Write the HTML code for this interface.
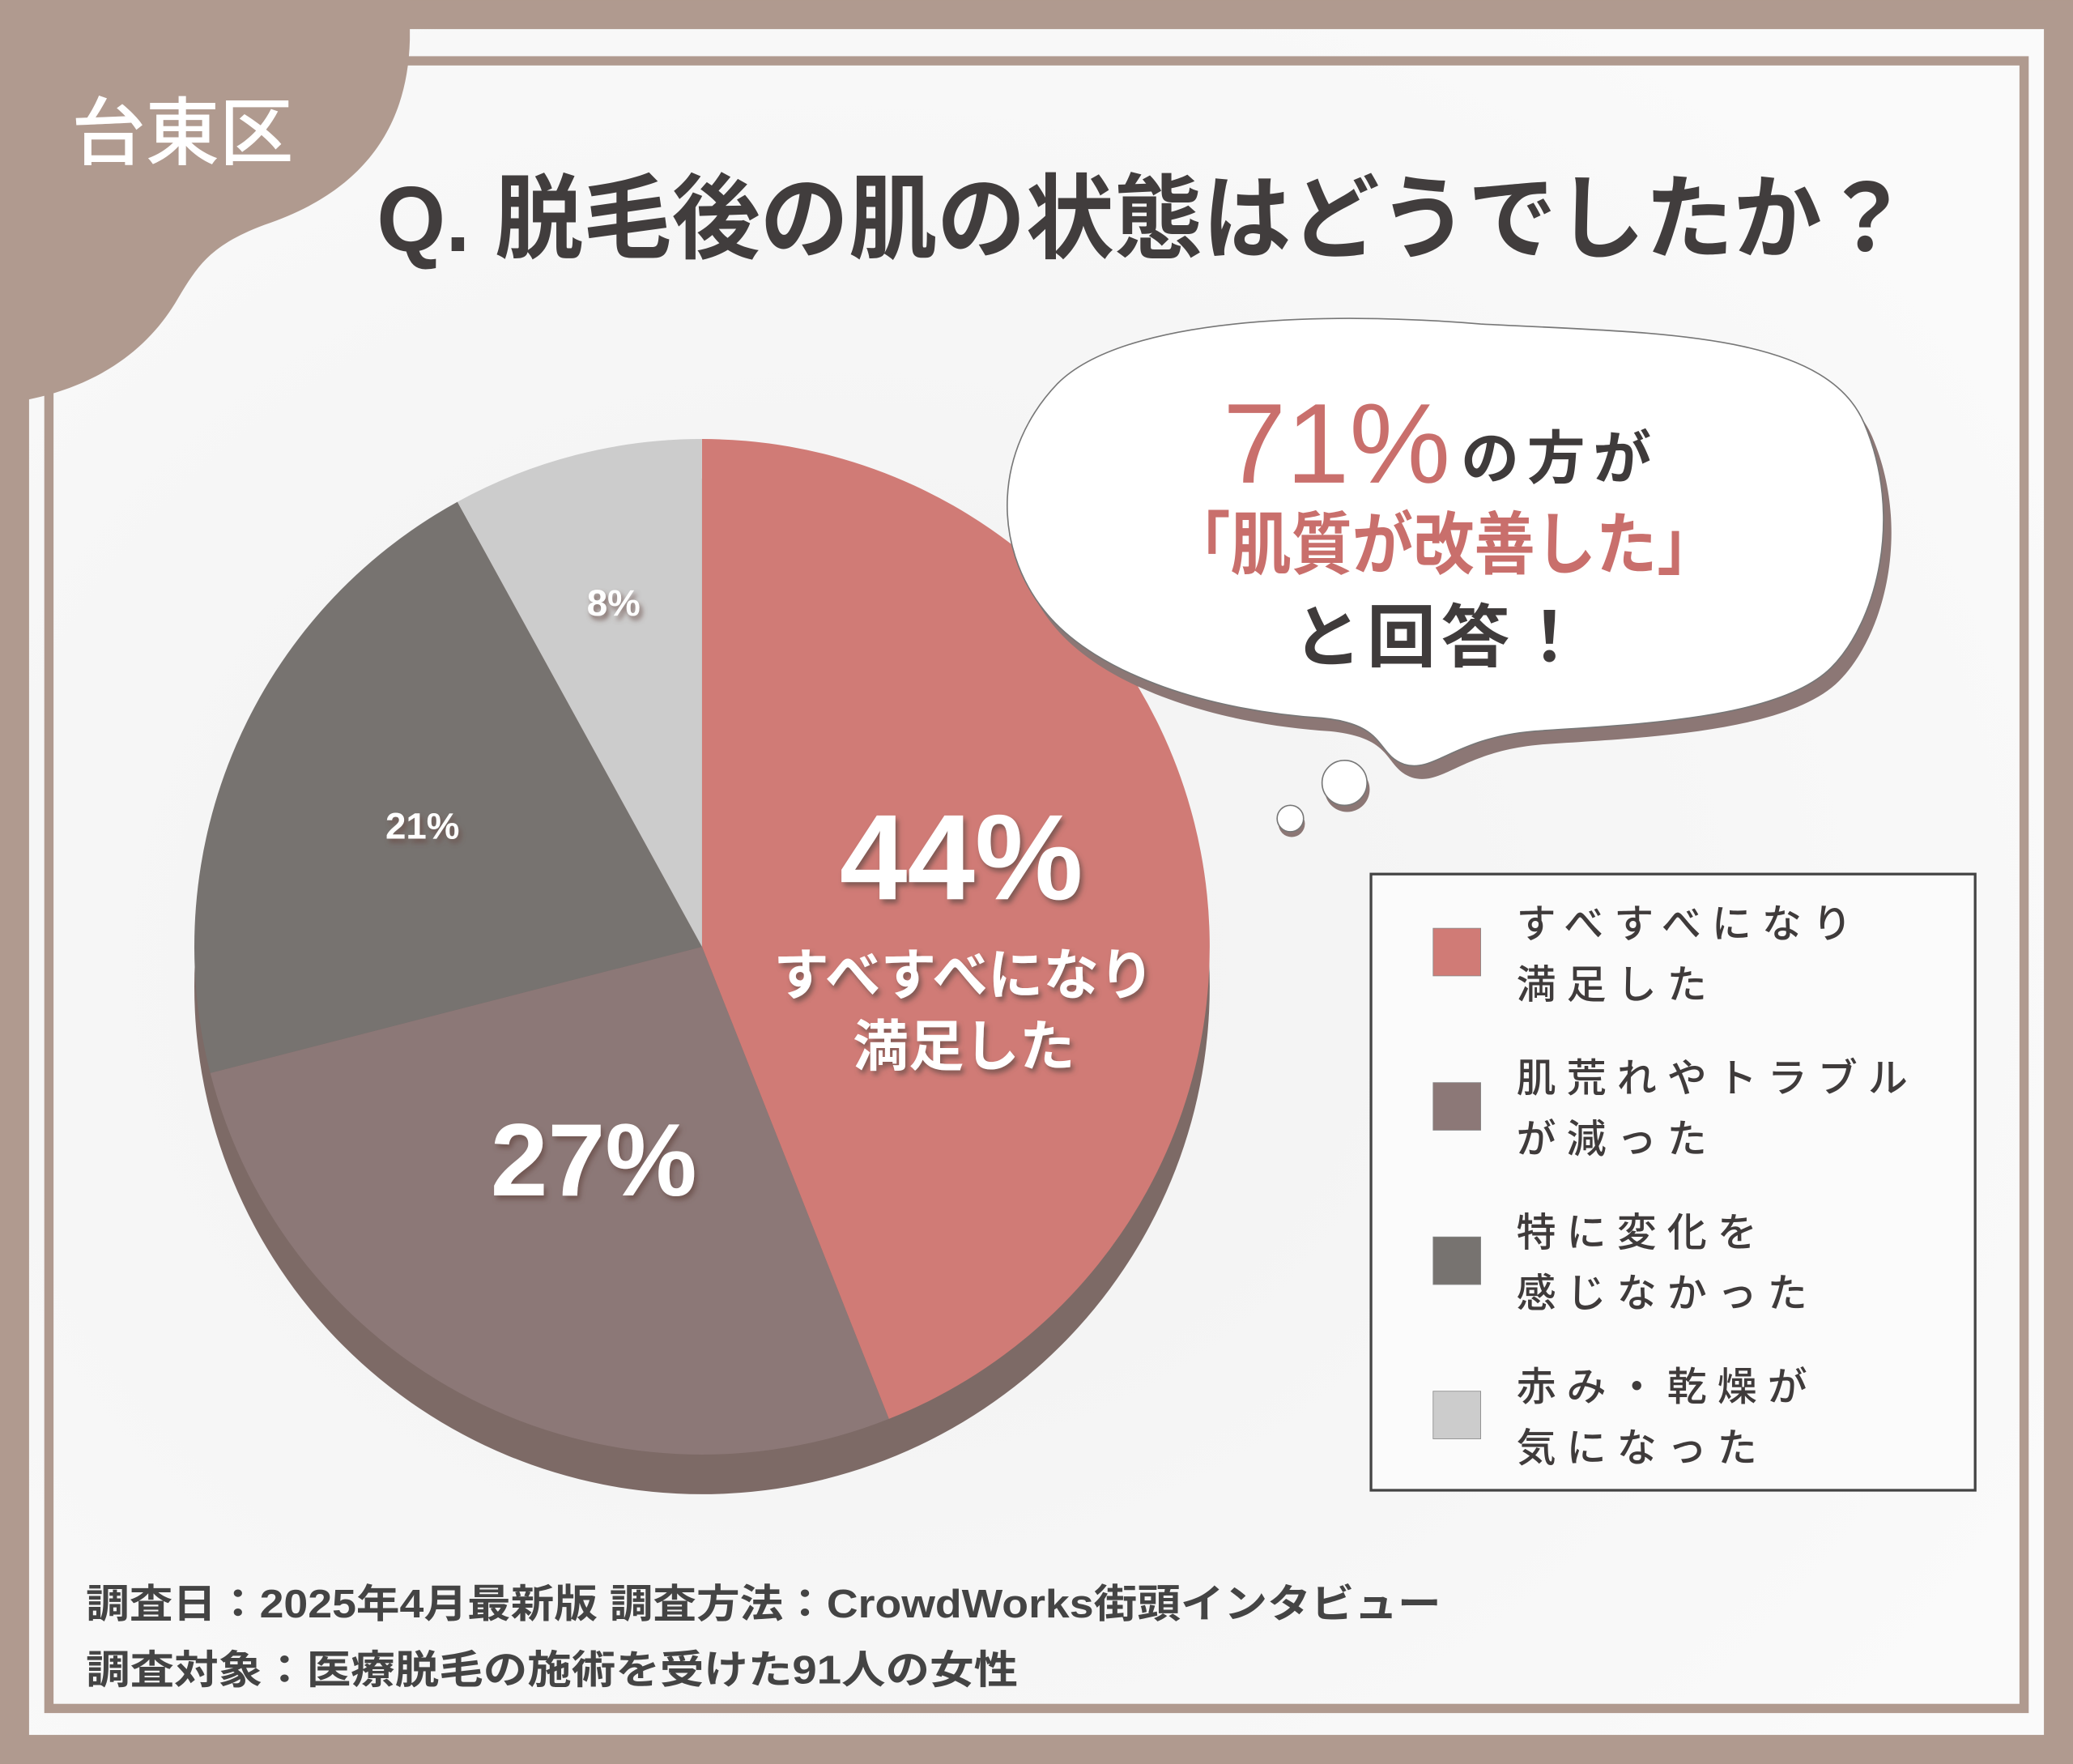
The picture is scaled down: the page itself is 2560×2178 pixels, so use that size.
<!DOCTYPE html>
<html><head><meta charset="utf-8"><style>
html,body{margin:0;padding:0;background:#b09a8f;}
svg{display:block;}
text{font-family:"Liberation Sans","Noto Sans CJK JP",sans-serif;}
</style></head><body>
<svg id="chart" width="2560" height="2178" viewBox="0 0 1568 1334" xmlns="http://www.w3.org/2000/svg">
  <defs>
    <radialGradient id="bgG" cx="0.4" cy="0.55" r="0.7">
      <stop offset="0" stop-color="#f1f1f1"/><stop offset="1" stop-color="#fafafa"/>
    </radialGradient>
    <filter id="ts" x="-20%" y="-20%" width="140%" height="140%">
      <feDropShadow dx="2" dy="3" stdDeviation="2" flood-color="#6b4f4c" flood-opacity="0.8"/>
    </filter>
  </defs>
  <rect x="0" y="0" width="1568" height="1334" fill="#b09a8f"/>
  <rect x="22" y="22" width="1524" height="1290" fill="url(#bgG)"/>
  <rect x="37" y="46" width="1494" height="1246" fill="none" stroke="#b09a8f" stroke-width="7"/>
  <path d="M0,0 L310,0 L310,30 C308,110 260,150 200,170 C160,185 150,200 135,225 C115,260 80,290 22,302 L0,302 Z" fill="#b09a8f"/>
  <text x="138" y="120" font-size="56" fill="#ffffff" text-anchor="middle" font-weight="500">台東区</text>
  <text x="285" y="190" font-size="70" font-weight="700" fill="#413d3d" textLength="1160" lengthAdjust="spacingAndGlyphs">Q. 脱毛後の肌の状態はどうでしたか？</text>

  <g id="pie"></g>

  <g>
    <path d="M800,290 C850,240 1000,235 1120,245 C1250,252 1380,250 1410,320 C1440,390 1420,470 1385,505 C1345,545 1230,548 1160,553 C1100,558 1085,585 1062,578 C1040,570 1050,548 1000,543 C920,538 830,512 790,462 C750,412 752,340 800,290 Z" fill="#8c7775" transform="translate(6,10)"/>
    <path d="M800,290 C850,240 1000,235 1120,245 C1250,252 1380,250 1410,320 C1440,390 1420,470 1385,505 C1345,545 1230,548 1160,553 C1100,558 1085,585 1062,578 C1040,570 1050,548 1000,543 C920,538 830,512 790,462 C750,412 752,340 800,290 Z" fill="#ffffff" stroke="#777" stroke-width="1"/>
    <circle cx="1019" cy="597" r="17" fill="#8c7775"/>
    <circle cx="1017" cy="592" r="17" fill="#fff" stroke="#777" stroke-width="1"/>
    <circle cx="977" cy="623" r="10" fill="#8c7775"/>
    <circle cx="976" cy="619" r="10" fill="#fff" stroke="#777" stroke-width="1"/>
    <text x="925" y="365" font-size="86" fill="#c96f6c" font-weight="500">71%</text>
    <text x="1105" y="362" font-size="44" fill="#3f3b3b" font-weight="700" letter-spacing="6">の方が</text>
    <text x="1092" y="430" font-size="52" fill="#c96f6c" font-weight="700" text-anchor="middle" textLength="415" lengthAdjust="spacingAndGlyphs">「肌質が改善した」</text>
    <text x="1090" y="500" font-size="52" fill="#3f3b3b" font-weight="700" text-anchor="middle" letter-spacing="4">と回答！</text>
  </g>

  <g>
    <rect x="1037" y="661" width="457" height="466" fill="#fbfbfb" stroke="#444" stroke-width="2"/>
    <g id="legendItems"></g>
  </g>

  <text x="65" y="1223" font-size="30" font-weight="700" fill="#444" textLength="1025" lengthAdjust="spacingAndGlyphs">調査日：2025年4月最新版  調査方法：CrowdWorks街頭インタビュー</text>
  <text x="65" y="1273" font-size="30" font-weight="700" fill="#444" textLength="705" lengthAdjust="spacingAndGlyphs">調査対象：医療脱毛の施術を受けた91人の女性</text>
</svg>
<script>
const categories = ["すべすべになり満足した", "肌荒れやトラブルが減った", "特に変化を感じなかった", "赤み・乾燥が気になった"];
const values = [44, 27, 21, 8];
const valueLabels = ["44%", "27%", "21%", "8%"];
const legendLine1 = ["すべすべになり", "肌荒れやトラブル", "特に変化を", "赤み・乾燥が"];
const legendLine2 = ["満足した", "が減った", "感じなかった", "気になった"];
const colors = ["#d07b76", "#8c7877", "#777370", "#cccccc"];

const NS = "http://www.w3.org/2000/svg";
const pie = document.getElementById("pie");
const cx = 531, cy = 716, r = 384, depth = 30;
const total = values.reduce((a, b) => a + b, 0);
function pt(angle, rad, yOff) {
  return [cx + rad * Math.sin(angle), cy + (yOff || 0) - rad * Math.cos(angle)];
}
const base = document.createElementNS(NS, "circle");


base.setAttribute("cx", cx); base.setAttribute("cy", cy + depth); base.setAttribute("r", r);
base.setAttribute("fill", "#7d6a66");
pie.appendChild(base);

let acc = 0;
const mids = [];
values.forEach((v, i) => {
  const a0 = acc / total * 2 * Math.PI;
  acc += v;
  const a1 = acc / total * 2 * Math.PI;
  mids.push((a0 + a1) / 2);
  const p0 = pt(a0, r), p1 = pt(a1, r);
  const large = (a1 - a0) > Math.PI ? 1 : 0;
  const path = document.createElementNS(NS, "path");
  
  
  path.setAttribute("d", `M${cx},${cy} L${p0[0]},${p0[1]} A${r},${r} 0 ${large} 1 ${p1[0]},${p1[1]} Z`);
  path.setAttribute("fill", colors[i]);
  pie.appendChild(path);
});

function addText(parent, x, y, size, txt, name, fill, filt, weight) {
  const t = document.createElementNS(NS, "text");
  
  
  t.setAttribute("x", x); t.setAttribute("y", y);
  t.setAttribute("font-size", size);
  t.setAttribute("fill", fill);
  t.setAttribute("text-anchor", "middle");
  t.setAttribute("font-weight", weight || "700");
  if (filt) t.setAttribute("filter", "url(#ts)");
  t.textContent = txt;
  parent.appendChild(t);
  return t;
}
// value labels
const labelRad = [0.52, 0.47, 0.6, 0.7];
const labelSize = [92, 78, 28, 28];
values.forEach((v, i) => {
  const p = pt(mids[i], r * labelRad[i]);
  let y = p[1] + labelSize[i] * 0.35;
  if (i === 0) y = 680;
  addText(pie, p[0], y, labelSize[i], valueLabels[i], "value-label-" + (i + 1), "#ffffff", true, i < 2 ? "700" : "700");
});
const p0 = pt(mids[0], r * labelRad[0]);
addText(pie, p0[0] + 2, 752, 42, "すべすべになり", "slice-label-line1", "#ffffff", true);
addText(pie, p0[0] + 2, 806, 42, "満足した", "slice-label-line2", "#ffffff", true);

// legend
const lg = document.getElementById("legendItems");
const rowY = [720, 836, 954, 1070];
categories.forEach((c, i) => {
  const y = rowY[0] + i * 116.7;
  const sw = document.createElementNS(NS, "rect");
  
  
  sw.setAttribute("x", 1084); sw.setAttribute("y", y - 18);
  sw.setAttribute("width", 36); sw.setAttribute("height", 36);
  sw.setAttribute("fill", colors[i]);
  sw.setAttribute("stroke", "#888"); sw.setAttribute("stroke-width", "0.5");
  lg.appendChild(sw);
  [legendLine1[i], legendLine2[i]].forEach((s, j) => {
    const t = document.createElementNS(NS, "text");
    
    
    t.setAttribute("x", 1147); t.setAttribute("y", y - 11 + j * 46);
    t.setAttribute("font-size", "30");
    t.setAttribute("font-weight", "500");
    t.setAttribute("letter-spacing", "8");
    t.setAttribute("fill", "#3f3b3b");
    t.textContent = s;
    lg.appendChild(t);
  });
});
</script>
</body></html>
